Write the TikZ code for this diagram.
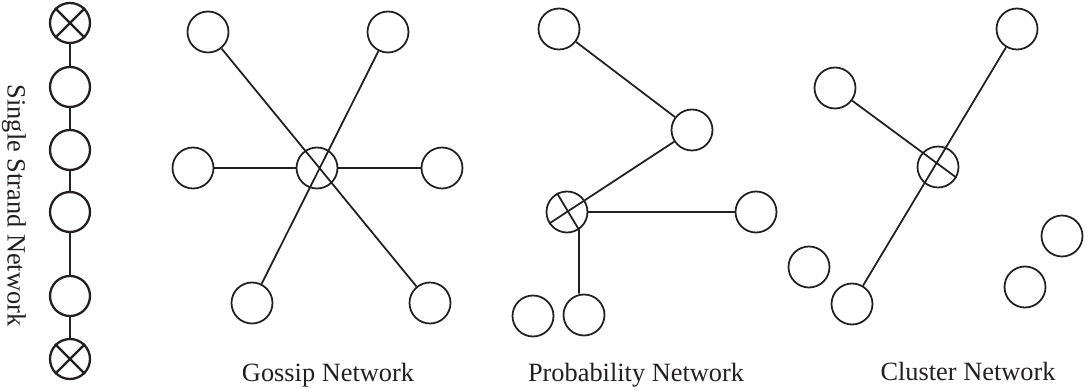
\documentclass[tikz,border=0pt]{standalone}
\usepackage{fontspec}
\setmainfont{Liberation Serif}
\definecolor{inkblack}{HTML}{231f20}

\begin{document}
\begin{tikzpicture}[x=0.02cm,y=-0.02cm,
    strandnode/.style={circle,draw=inkblack,line width=1.3pt,minimum size=0.8cm,inner sep=0pt},
    netnode/.style={circle,draw=inkblack,line width=1pt,minimum size=0.82cm,inner sep=0pt},
    link/.style={draw=inkblack,line width=1pt},
    caption/.style={anchor=base,font=\fontsize{15}{18}\selectfont,text=inkblack}]
\useasboundingbox (0,0) rectangle (1088,391);

% Single strand
\foreach \y [count=\i] in {23,87,150,212,296,359}
    \node[strandnode] (s\i) at (70,\y) {};
\foreach \i/\j in {1/2,2/3,3/4,4/5,5/6}
    \draw[link,line width=1.3pt] (s\i) -- (s\j);
\foreach \k in {1,6}
    \draw[link,line width=1.3pt] (s\k.45) -- (s\k.225) (s\k.135) -- (s\k.315);
\node[caption,rotate=-90] (strandcap) at (7.5,205.5) {Single Strand Network};

% Gossip
\node[netnode] (gtl) at (208,32) {};
\node[netnode] (gtr) at (388,32) {};
\node[netnode] (gl) at (193,168) {};
\node[netnode] (gc) at (317,168) {};
\node[netnode] (gr) at (442,168) {};
\node[netnode] (gbl) at (252,303) {};
\node[netnode] (gbr) at (430,303) {};
\draw[link] (gtl) -- (gbr) (gtr) -- (gbl);
\draw[link] (gl) -- (gc) -- (gr);
\node[caption] (gcap) at (328,381) {Gossip Network};

% Probability
\node[netnode] (ptop) at (559,29) {};
\node[netnode] (pmid) at (692,130) {};
\node[netnode] (phub) at (567,212) {};
\node[netnode] (pright) at (756,212) {};
\node[netnode] (pleft) at (533,316) {};
\node[netnode] (pbot) at (584,315) {};
\draw[link] (ptop) -- (pmid);
\draw[link] (pmid) -- (phub.213);
\draw[link] (phub) -- (pright);
\draw[link] (phub.118) -- (phub.-56) -- (phub.-56 |- pbot.north);
\node[caption] (pcap) at (636,381) {Probability Network};

% Cluster
\node[netnode] (ctr) at (1017,29) {};
\node[netnode] (ctl) at (835,88) {};
\node[netnode] (chub) at (938,167) {};
\node[netnode] (cbot) at (852,304) {};
\node[netnode] (cleft) at (809,267) {};
\node[netnode] (cup) at (1062,236) {};
\node[netnode] (clow) at (1025,287) {};
\draw[link] (ctr) -- (cbot);
\draw[link] (ctl) -- (chub.-30);
\node[caption] (ccap) at (968,380) {Cluster Network};
\end{tikzpicture}
\end{document}
